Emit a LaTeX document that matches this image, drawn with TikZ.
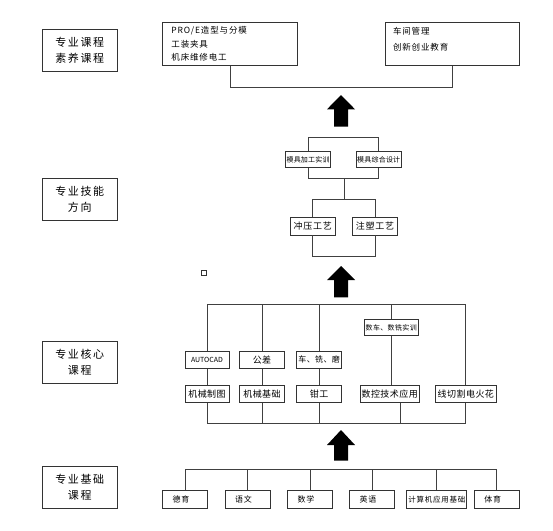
\documentclass[tikz,border=0pt]{standalone}
\usepackage{fontspec}
\setmainfont{Noto Sans CJK SC}
\usetikzlibrary{positioning}
\newcommand\trk[1]{\addfontfeature{LetterSpace=#1}}
\newcommand\upblock[4]{% x, tip, head base, bottom
  \fill[black] (#1-14,#3) -- (#1,#2) -- (#1+14,#3) -- (#1+7,#3) -- (#1+7,#4) -- (#1-7,#4) -- (#1-7,#3) -- cycle;}
\tikzset{
  line/.style={draw=black!75, line width=0.8pt},
  box/.style={draw=black!80, line width=0.8pt, fill=white, rectangle, inner sep=0pt},
  catbox/.style={box, minimum width=75.5pt, minimum height=42pt, align=center,
    font={\fontsize{11}{16}\selectfont\trk{15}}},
  listbox/.style={box, minimum width=134.5pt, minimum height=43.3pt},
  listtext/.style={inner sep=0pt, align=left, anchor=north west},
  corebox/.style={box, minimum height=17pt, font={\fontsize{9}{11}\selectfont\trk{5}}},
  basebox/.style={box, minimum height=18pt, text width=25pt, inner xsep=10pt, align=left,
    font={\fontsize{8}{10}\selectfont\trk{10}}}
}
\begin{document}
\begin{tikzpicture}[x=1pt,y=-1pt]
  \useasboundingbox (0,0) rectangle (553,530);

  % left column
  \node[catbox] (catA) at (79.75,50.3)  {专业课程\\素养课程};
  \node[catbox] (catB) at (79.75,199.2) {专业技能\\方向};
  \node[catbox] (catC) at (79.75,361.9) {专业核心\\课程};
  \node[catbox] (catD) at (79.75,487.2) {专业基础\\课程};

  % top: quality courses
  \coordinate (topBar) at (340,87);
  \node[listbox] (proe) at (229.9,44) {};
  \node[listbox] (mgmt) at (452.5,44) {};
  \node[listtext, font={\fontsize{8.5}{13.3}\selectfont\trk{10}},
        below right=4.6pt and 9pt of proe.north west] (proeList)
        {PRO/E造型与分模\\工装夹具\\机床维修电工};
  \node[listtext, font={\fontsize{8.5}{16.5}\selectfont\trk{10}},
        below right=5pt and 8pt of mgmt.north west] (mgmtList)
        {车间管理\\创新创业教育};
  \draw[line] (proe.south) -- (proe.south |- topBar) -- (mgmt.south |- topBar) -- (mgmt.south);

  \upblock{341}{95}{109.3}{126.7}

  % skill direction
  \coordinate (skillTop) at (344,137.3);
  \coordinate (skillMid) at (344.3,178.3);
  \coordinate (skillLow) at (344.3,199.3);
  \coordinate (skillEnd) at (344,256);
  \begin{scope}[every node/.style={box, minimum width=45pt, minimum height=16pt,
      font={\fontsize{7}{9}\selectfont\trk{3}}}]
    \node (mjA) at (308.1,159.7) {模具加工实训};
    \node (mjB) at (378.7,159.7) {模具综合设计};
  \end{scope}
  \begin{scope}[every node/.style={box, minimum width=44.5pt, minimum height=17.7pt,
      font={\fontsize{9}{11}\selectfont\trk{8}}}]
    \node (cyA) at (312.7,226.2) {冲压工艺};
    \node (cyB) at (375,226.2)   {注塑工艺};
  \end{scope}
  \draw[line] (mjA.north) -- (mjA.north |- skillTop) -- (mjB.north |- skillTop) -- (mjB.north);
  \draw[line] (mjA.south) -- (mjA.south |- skillMid) -- (mjB.south |- skillMid) -- (mjB.south);
  \draw[line] (skillMid) -- (skillLow);
  \draw[line] (cyA.north) -- (cyA.north |- skillLow) -- (cyB.north |- skillLow) -- (cyB.north);
  \draw[line] (cyA.south) -- (cyA.south |- skillEnd) -- (cyB.south |- skillEnd) -- (cyB.south);

  \node[box, minimum size=5pt] (dot) at (203.5,272.5) {};

  \upblock{341}{266}{280}{297.3}

  % core courses
  \coordinate (coreTop) at (336,304.3);
  \coordinate (coreBot) at (336,423.3);
  \node[corebox, minimum width=44pt, font={\fontsize{7}{9}\selectfont}] (cad) at (207,359.7) {AUTOCAD};
  \node[corebox, minimum width=45.4pt] (gc)  at (262,359.7)   {公差};
  \node[corebox, minimum width=45pt, font={\fontsize{8}{10}\selectfont\trk{5}}] (cxm) at (319.2,359.7) {车、铣、磨};
  \node[corebox, minimum width=54.3pt, minimum height=16.4pt, font={\fontsize{7}{9}\selectfont\trk{5}}] (sx) at (391.2,327.5) {数车、数铣实训};
  \node[corebox, minimum width=44pt] (jxzt) at (207,394)    {机械制图};
  \node[corebox, minimum width=45.4pt] (jxjc) at (262,394)  {机械基础};
  \node[corebox, minimum width=45pt] (qg)   at (319.2,394)  {钳工};
  \node[corebox, minimum width=59.3pt] (skjs) at (389.7,394) {数控技术应用};
  \node[corebox, minimum width=61.7pt] (xqg)  at (465.85,394) {线切割电火花};
  \draw[line] (cad.north |- coreTop) -- (xqg.north |- coreTop);
  \draw[line] (cad.south |- coreBot) -- (xqg.south |- coreBot);
  \foreach \a/\b in {cad/jxzt, gc/jxjc, cxm/qg} {
    \draw[line] (\a.north) -- (\a.north |- coreTop);
    \draw[line] (\a.south) -- (\b.north);
    \draw[line] (\b.south) -- (\b.south |- coreBot);
  }
  \draw[line] (sx.north) -- (sx.north |- coreTop);
  \draw[line] (sx.south) -- (sx.south |- skjs.north);
  \draw[line] ([xshift=11pt]skjs.south) -- ([xshift=11pt]skjs.south |- coreBot);
  \draw[line] (xqg.north) -- (xqg.north |- coreTop);
  \draw[line] (xqg.south) -- (xqg.south |- coreBot);

  \upblock{341}{430}{445}{460.7}

  % basic courses
  \coordinate (baseBar) at (340,469);
  \node[basebox] (dy) at (185,499.3)   {德育};
  \node[basebox] (yw) at (247.6,499.3) {语文};
  \node[basebox] (sxue) at (310,499.3) {数学};
  \node[basebox] (yy) at (372.2,499.3) {英语};
  \node[basebox, text width=56.4pt, inner xsep=2pt, font={\fontsize{7.5}{9}\selectfont\trk{10}}] (jsj) at (436.5,499.3) {计算机应用基础};
  \node[basebox] (ty) at (496.8,499.3) {体育};
  \draw[line] (dy.north |- baseBar) -- (ty.north |- baseBar);
  \foreach \n in {dy, yw, sxue, yy, jsj, ty}
    \draw[line] (\n.north) -- (\n.north |- baseBar);
\end{tikzpicture}
\end{document}
